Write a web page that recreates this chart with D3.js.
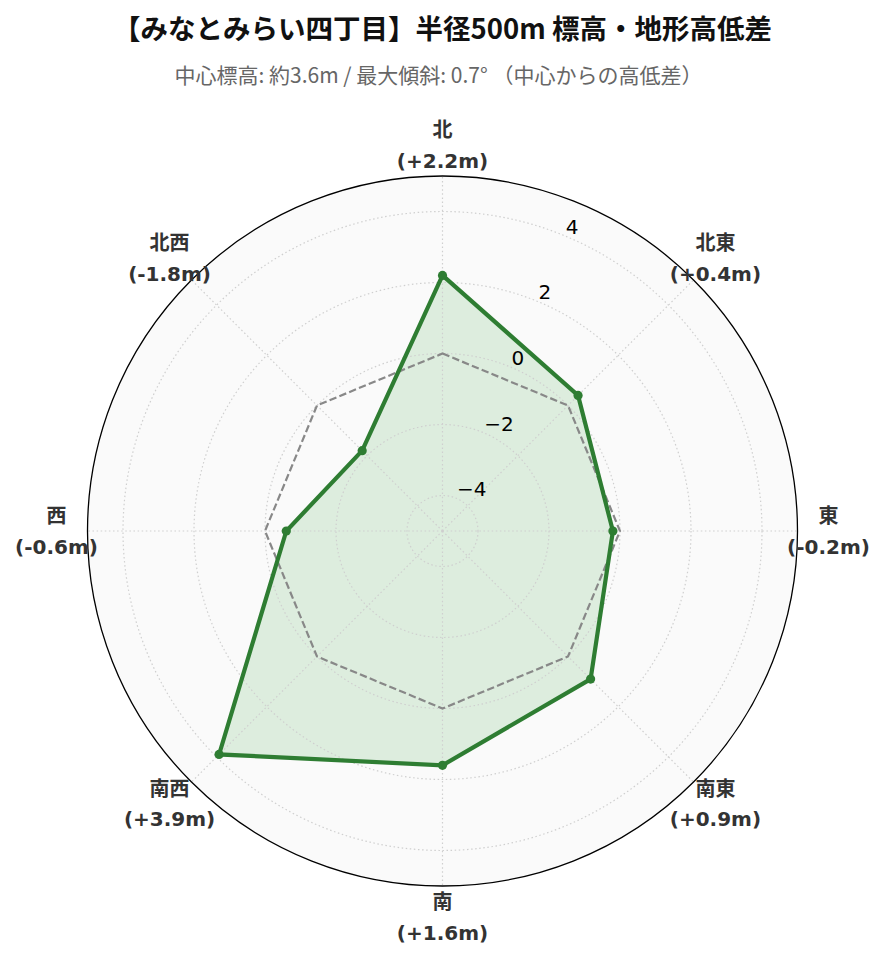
<!DOCTYPE html>
<html>
<head>
<meta charset="utf-8">
<script src="https://cdn.jsdelivr.net/npm/d3@7"></script>
<style>
  html, body { margin: 0; padding: 0; background: #ffffff; }
  svg { display: block; }
</style>
</head>
<body>
<svg id="chart" width="885" height="962"></svg>
<script>
const titleText = "【みなとみらい四丁目】半径500m 標高・地形高低差";
const subtitleText = "中心標高: 約3.6m / 最大傾斜: 0.7° （中心からの高低差）";
const categories = ["北", "北東", "東", "南東", "南", "南西", "西", "北西"];
const values = [2.2, 0.4, -0.2, 0.9, 1.6, 3.9, -0.6, -1.8];
const valueLabels = ["(+2.2m)", "(+0.4m)", "(-0.2m)", "(+0.9m)", "(+1.6m)", "(+3.9m)", "(-0.6m)", "(-1.8m)"];
const zeroRef = [0, 0, 0, 0, 0, 0, 0, 0];
const radialTicks = [-4, -2, 0, 2, 4];
const radialDomain = [-5, 5];

const svg = d3.select("#chart");
const W = 885;
const cx = 442.5, cy = 531, R = 355;

const r = d3.scaleLinear().domain(radialDomain).range([0, R]);
const angle = d3.scalePoint().domain(d3.range(categories.length)).range([0, 2 * Math.PI * (categories.length - 1) / categories.length]);

const g = svg.append("g").attr("transform", `translate(${cx},${cy})`);

// background
g.append("circle").attr("r", R).attr("fill", "#fafafa");

// polygon fill
const radial = d3.lineRadial()
  .angle((d, i) => angle(i))
  .radius(d => r(d))
  .curve(d3.curveLinearClosed);

g.append("path")
  .datum(values)
  .attr("d", radial)
  .attr("fill", "#4caf50")
  .attr("fill-opacity", 0.16)
  .attr("stroke", "none");

// grid circles
g.selectAll("circle.grid")
  .data(radialTicks)
  .join("circle")
  .attr("class", "grid")
  .attr("r", d => r(d))
  .attr("fill", "none")
  .attr("stroke", "#cfcfcf")
  .attr("stroke-width", 1.2)
  .attr("stroke-dasharray", "1.5,2.6");

// spokes
g.selectAll("line.spoke")
  .data(categories.map((c, i) => i))
  .join("line")
  .attr("class", "spoke")
  .attr("x1", 0).attr("y1", 0)
  .attr("x2", i => R * Math.sin(angle(i)))
  .attr("y2", i => -R * Math.cos(angle(i)))
  .attr("stroke", "#cfcfcf")
  .attr("stroke-width", 1.2)
  .attr("stroke-dasharray", "1.5,2.6");

// zero reference dashed
g.append("path")
  .datum(zeroRef)
  .attr("d", radial)
  .attr("fill", "none")
  .attr("stroke", "#888888")
  .attr("stroke-width", 2.2)
  .attr("stroke-dasharray", "7.4,3.2");

// main line
g.append("path")
  .datum(values)
  .attr("d", radial)
  .attr("fill", "none")
  .attr("stroke", "#2e7d32")
  .attr("stroke-width", 4.2)
  .attr("stroke-linejoin", "miter");

// markers
g.selectAll("circle.pt")
  .data(values)
  .join("circle")
  .attr("class", "pt")
  .attr("cx", (d, i) => r(d) * Math.sin(angle(i)))
  .attr("cy", (d, i) => -r(d) * Math.cos(angle(i)))
  .attr("r", 4.6)
  .attr("fill", "#2e7d32");

// outer circle
g.append("circle").attr("r", R).attr("fill", "none").attr("stroke", "#000").attr("stroke-width", 1.3);

// radial tick labels at 22.5deg
const tickAng = Math.PI / 8;
g.selectAll("text.rtick")
  .data(radialTicks)
  .join("text")
  .attr("class", "rtick")
  .attr("x", d => r(d) * Math.sin(tickAng) + 1)
  .attr("y", d => -r(d) * Math.cos(tickAng) - 2)
  .attr("text-anchor", "start")
  .attr("font-family", "DejaVu Sans")
  .attr("font-size", 20)
  .attr("fill", "#000")
  .text(d => d < 0 ? "\u2212" + Math.abs(d) : String(d));

// category labels
const labR = 386;
const lab = g.selectAll("g.cat")
  .data(categories.map((c, i) => i))
  .join("g")
  .attr("class", "cat")
  .attr("transform", i => `translate(${labR * Math.sin(angle(i))},${-labR * Math.cos(angle(i))})`);

lab.append("text")
  .attr("y", -8)
  .attr("text-anchor", "middle")
  .attr("font-family", "'DejaVu Sans', 'Noto Sans CJK JP'")
  .attr("font-weight", "bold")
  .attr("font-size", 20)
  .attr("fill", "#333333")
  .text(i => categories[i]);

lab.append("text")
  .attr("y", 22.5)
  .attr("text-anchor", "middle")
  .attr("font-family", "'DejaVu Sans', 'Noto Sans CJK JP'")
  .attr("font-weight", "bold")
  .attr("font-size", 20)
  .attr("fill", "#333333")
  .text(i => valueLabels[i]);

// title
svg.append("text")
  .attr("x", W / 2)
  .attr("y", 39)
  .attr("text-anchor", "middle")
  .attr("font-family", "'Noto Sans CJK JP'")
  .attr("font-weight", "bold")
  .attr("font-size", 27.5)
  .attr("fill", "#111")
  .text(titleText);

svg.append("text")
  .attr("x", W / 2 - 4)
  .attr("y", 83)
  .attr("text-anchor", "middle")
  .attr("font-family", "'Noto Sans CJK JP'")
  .attr("font-size", 21)
  .attr("fill", "#666")
  .text(subtitleText);
</script>
</body>
</html>
